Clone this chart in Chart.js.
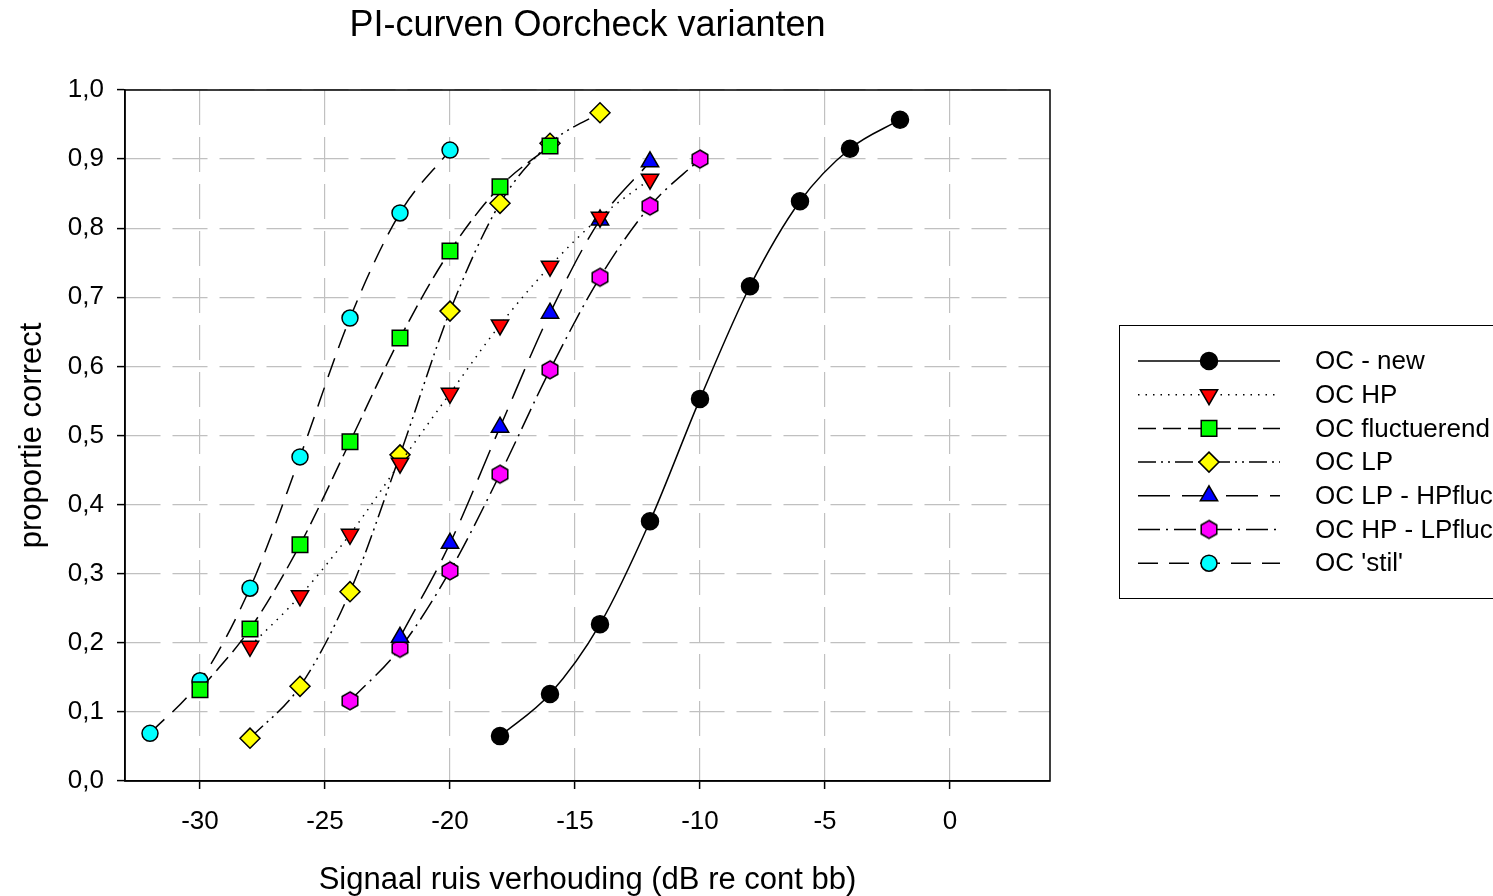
<!DOCTYPE html>
<html>
<head>
<meta charset="utf-8">
<script src="https://cdn.jsdelivr.net/npm/chart.js@4.4.0/dist/chart.umd.min.js"></script>
<style>
  body { margin: 0; background: #fff; }
  #wrap { width: 1493px; height: 896px; }
</style>
</head>
<body>
<div id="wrap"><canvas id="pi_chart"></canvas></div>
<script>
var chartTitle = "PI-curven Oorcheck varianten";
var xTitle = "Signaal ruis verhouding (dB re cont bb)";
var yTitle = "proportie correct";
var xTicks = [-30, -25, -20, -15, -10, -5, 0];
var yTicks = [0, 0.1, 0.2, 0.3, 0.4, 0.5, 0.6, 0.7, 0.8, 0.9, 1.0];

var seriesNames = ["OC - new", "OC HP", "OC fluctuerend", "OC LP", "OC LP - HPfluc", "OC HP - LPfluc", "OC 'stil'"];

var snrNew = [-18, -16, -14, -12, -10, -8, -6, -4, -2];
var pcNew = [0.065, 0.126, 0.227, 0.376, 0.553, 0.716, 0.839, 0.915, 0.957];

var snrHP = [-28, -26, -24, -22, -20, -18, -16, -14, -12];
var pcHP = [0.195, 0.268, 0.357, 0.46, 0.561, 0.66, 0.745, 0.816, 0.871];

var snrFluct = [-30, -28, -26, -24, -22, -20, -18, -16];
var pcFluct = [0.132, 0.22, 0.342, 0.491, 0.641, 0.767, 0.86, 0.919];

var snrLP = [-28, -26, -24, -22, -20, -18, -16, -14];
var pcLP = [0.062, 0.137, 0.274, 0.472, 0.68, 0.836, 0.923, 0.967];

var snrLPHP = [-22, -20, -18, -16, -14, -12];
var pcLPHP = [0.208, 0.344, 0.512, 0.677, 0.812, 0.896];

var snrHPLP = [-24, -22, -20, -18, -16, -14, -12, -10];
var pcHPLP = [0.116, 0.192, 0.304, 0.444, 0.595, 0.729, 0.832, 0.9];

var snrStil = [-32, -30, -28, -26, -24, -22, -20];
var pcStil = [0.069, 0.145, 0.279, 0.469, 0.67, 0.822, 0.913];

Chart.defaults.font.family = "'Liberation Sans', Arial, sans-serif";
Chart.defaults.color = "#000";

function pairs(xs, ys) {
    var res = [];
    for (var i = 0; i < xs.length; i++) res.push({ x: xs[i], y: ys[i] });
    return res;
}

// pointy-top hexagon marker, Chart.js has none built in
function hexMarker(r, fill) {
    var c = document.createElement("canvas");
    c.width = Math.ceil(r * 2 + 4);
    c.height = Math.ceil(r * 2 + 4);
    var g = c.getContext("2d");
    var cx = c.width / 2, cy = c.height / 2;
    g.beginPath();
    for (var i = 0; i < 6; i++) {
        var a = Math.PI / 3 * i;
        var px = cx + Math.sin(a) * r, py = cy - Math.cos(a) * r;
        if (i === 0) g.moveTo(px, py); else g.lineTo(px, py);
    }
    g.closePath();
    g.fillStyle = fill;
    g.fill();
    g.lineWidth = 1.5;
    g.strokeStyle = "#000";
    g.stroke();
    return c;
}

function series(label, xs, ys, fill, style, radius, dash, rotation) {
    return {
        label: label,
        data: pairs(xs, ys),
        borderColor: "#000",
        borderWidth: 1.5,
        borderDash: dash,
        backgroundColor: fill,
        pointBackgroundColor: fill,
        pointBorderColor: "#000",
        pointBorderWidth: 1.5,
        pointStyle: style,
        pointRadius: radius,
        pointRotation: rotation || 0,
        cubicInterpolationMode: "monotone",
        fill: false,
    };
}

var datasets = [
    series(seriesNames[0], snrNew, pcNew, "#000000", "circle", 8.5, []),
    series(seriesNames[1], snrHP, pcHP, "#ff0000", "triangle", 10, [1.5, 6], 180),
    series(seriesNames[2], snrFluct, pcFluct, "#00ff00", "rect", 11, [18, 7]),
    series(seriesNames[3], snrLP, pcLP, "#ffff00", "rectRot", 10, [18, 5, 2, 5, 2, 5]),
    series(seriesNames[4], snrLPHP, pcLPHP, "#0000ff", "triangle", 10, [32, 12]),
    series(seriesNames[5], snrHPLP, pcHPLP, "#ff00ff", hexMarker(9, "#ff00ff"), 9, [22, 6, 2, 6]),
    series(seriesNames[6], snrStil, pcStil, "#00ffff", "circle", 8, [20, 11]),
];

var frameAndLegend = {
    id: "frameAndLegend",
    afterDraw: function (chart) {
        var ctx = chart.ctx, a = chart.chartArea;
        ctx.save();
        // plot frame
        ctx.strokeStyle = "#000";
        ctx.lineWidth = 1.5;
        ctx.setLineDash([]);
        ctx.strokeRect(a.left, a.top, a.right - a.left, a.bottom - a.top);

        // title
        ctx.fillStyle = "#000";
        ctx.font = "36px 'Liberation Sans', Arial, sans-serif";
        ctx.textAlign = "center";
        ctx.textBaseline = "middle";
        ctx.fillText(chartTitle, (a.left + a.right) / 2, 26);

        // legend box
        var bx = a.right + 69, by = a.top + 235, bh = 273;
        ctx.lineWidth = 1;
        ctx.strokeRect(bx + 0.5, by + 0.5, 400, bh);
        ctx.font = "26px 'Liberation Sans', Arial, sans-serif";
        ctx.textAlign = "left";
        chart.data.datasets.forEach(function (ds, i) {
            var y = by + 36 + i * 33.7;
            ctx.strokeStyle = "#000";
            ctx.lineWidth = 1.5;
            ctx.setLineDash(ds.borderDash);
            ctx.beginPath();
            ctx.moveTo(bx + 19, y);
            ctx.lineTo(bx + 161, y);
            ctx.stroke();
            ctx.setLineDash([]);
            ctx.fillStyle = ds.pointBackgroundColor;
            ctx.strokeStyle = "#000";
            ctx.lineWidth = ds.pointBorderWidth;
            Chart.helpers.drawPoint(ctx, {
                pointStyle: ds.pointStyle,
                rotation: ds.pointRotation,
                radius: ds.pointRadius,
                borderWidth: ds.pointBorderWidth,
            }, bx + 90, y);
            ctx.fillStyle = "#000";
            ctx.fillText(ds.label, bx + 196, y + 1);
        });
        ctx.restore();
    },
};

var gridOpts = {
    color: "#c0c0c0",
    lineWidth: 1.2,
    tickLength: 8,
    tickColor: "#000",
    tickWidth: 1.5,
    tickBorderDash: [],
};

new Chart(document.getElementById("pi_chart").getContext("2d"), {
    type: "line",
    data: { datasets: datasets },
    options: {
        responsive: true,
        maintainAspectRatio: false,
        animation: false,
        layout: { padding: { left: 0, top: 90, right: 443, bottom: -3 } },
        plugins: { legend: { display: false }, title: { display: false }, tooltip: { enabled: false } },
        scales: {
            x: {
                type: "linear",
                min: -33,
                max: 4,
                grid: gridOpts,
                border: { color: "#000", width: 1.5, dash: [35, 12] },
                afterBuildTicks: function (s) { s.ticks = xTicks.map(function (v) { return { value: v }; }); },
                afterFit: function (s) { s.height = 118; },
                ticks: { font: { size: 26 }, padding: 17, maxRotation: 0, callback: function (v) { return String(v); } },
                title: { display: true, text: xTitle, font: { size: 31 }, padding: { top: 0, bottom: 0 } },
            },
            y: {
                type: "linear",
                min: 0,
                max: 1,
                grid: gridOpts,
                border: { color: "#000", width: 1.5, dash: [35, 12] },
                afterBuildTicks: function (s) { s.ticks = yTicks.map(function (v) { return { value: v }; }); },
                afterFit: function (s) { s.width = 125; },
                ticks: { font: { size: 26 }, padding: 13, callback: function (v) { return v.toFixed(1).replace(".", ","); } },
                title: { display: true, text: yTitle, font: { size: 31 }, padding: { top: 14, bottom: 0 } },
            },
        },
    },
    plugins: [frameAndLegend],
});
</script>
</body>
</html>
